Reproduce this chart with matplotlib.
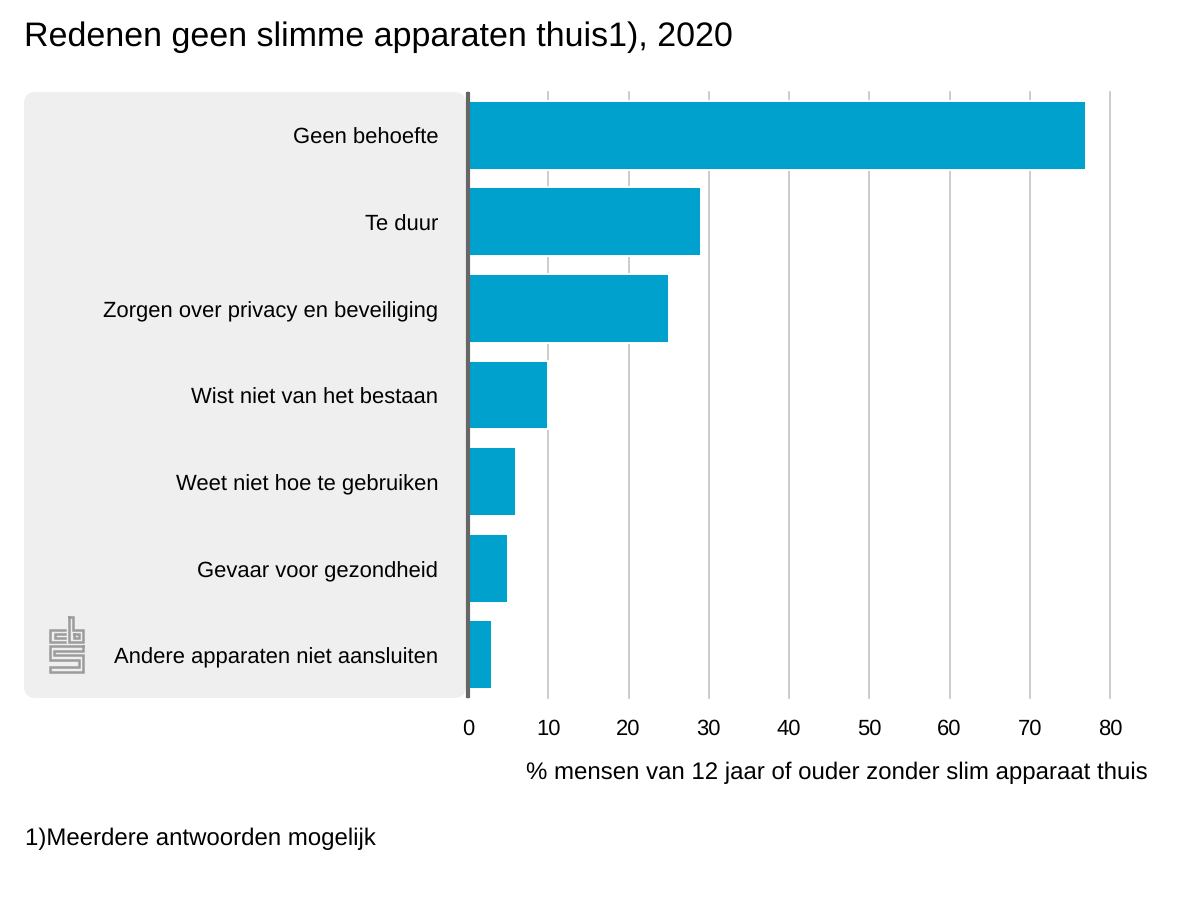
import matplotlib
matplotlib.use('Agg')
import matplotlib.pyplot as plt
from matplotlib.lines import Line2D
from matplotlib.patches import FancyBboxPatch
from matplotlib.transforms import ScaledTranslation

plt.rcParams['font.family'] = ['Liberation Sans', 'DejaVu Sans']
plt.rcParams['text.hinting'] = 'no_hinting'

categories = ['Geen behoefte', 'Te duur', 'Zorgen over privacy en beveiliging',
              'Wist niet van het bestaan', 'Weet niet hoe te gebruiken',
              'Gevaar voor gezondheid', 'Andere apparaten niet aansluiten']
values = [77, 29, 25, 10, 6, 5, 3]
xticks = [0, 10, 20, 30, 40, 50, 60, 70, 80]

W, H = 1200, 900
BLUE = '#00a1cd'


def px_rect(x0, y0, x1, y1):
    # pixels from top left -> figure fractions
    return [x0 / W, 1 - y1 / H, (x1 - x0) / W, (y1 - y0) / H]


def draw_logo(fig):
    # cbs logo as a simple double outline
    paths = [
        [(65, 630), (50, 630), (50, 642), (65, 642)],
        [(65, 634), (55, 634), (55, 638), (65, 638)],
        [(69, 617), (69, 642), (83, 642), (83, 630), (73, 630), (73, 617), (69, 617)],
        [(74, 634), (79, 634), (79, 638), (74, 638), (74, 634)],
        [(83, 646), (50, 646), (50, 660), (79, 660), (79, 667), (50, 667),
         (50, 672), (83, 672), (83, 655), (54, 655), (54, 651), (83, 651), (83, 646)],
    ]
    for p in paths:
        xs = [a / W for a, b in p]
        ys = [1 - b / H for a, b in p]
        fig.add_artist(Line2D(xs, ys, color='#9c9c9c', lw=1.8, solid_joinstyle='miter'))


fig = plt.figure(figsize=(12, 9), dpi=100)
ax = fig.add_axes(px_rect(468, 92, 1110, 698))

# grey panel behind the labels
panel = FancyBboxPatch((36, 900 - 698 + 12), 418, 606 - 24,
                       boxstyle='round,pad=12,rounding_size=12',
                       transform=None, facecolor='#efefef', edgecolor='none', zorder=-1)
fig.add_artist(panel)

ypos = list(range(len(categories)))
ax.barh(ypos, values, height=0.797, color=BLUE, edgecolor='white', linewidth=1.4, zorder=3)
ax.set_ylim(len(categories) - 0.5, -0.5)
ax.set_xlim(0, 80)

ax.set_yticks(ypos)
ax.set_yticklabels(categories, fontsize=15.8, color='black')
ax.tick_params(axis='y', length=0, pad=21.5)
ax.set_xticks(xticks)
ax.tick_params(axis='x', length=0, pad=15, labelsize=15.8, labelcolor='black')

# labels sit a pixel lower in the original
for lbl in ax.get_yticklabels():
    lbl.set_transform(lbl.get_transform() + ScaledTranslation(0, -1 / 100, fig.dpi_scale_trans))

ax.grid(axis='x', color='#c4c4c4', lw=1.2, zorder=1, clip_on=False)
ax.set_axisbelow(True)
for side in ['top', 'right', 'bottom']:
    ax.spines[side].set_visible(False)
ax.spines['left'].set_color('#666666')
ax.spines['left'].set_linewidth(3)
ax.spines['left'].set_capstyle('butt')
ax.spines['left'].set_zorder(5)
ax.patch.set_alpha(0)

fig.text(24 / W, 1 - 37 / H, 'Redenen geen slimme apparaten thuis1), 2020',
         fontsize=24.5, color='black', va='center', ha='left')
fig.text(1148 / W, 1 - 773 / H, '% mensen van 12 jaar of ouder zonder slim apparaat thuis',
         fontsize=17.25, color='black', va='center', ha='right')
fig.text(25 / W, 1 - 839 / H, '1)Meerdere antwoorden mogelijk',
         fontsize=17.25, color='black', va='center', ha='left')

draw_logo(fig)

fig.savefig('out.png', dpi=100, facecolor='white')
